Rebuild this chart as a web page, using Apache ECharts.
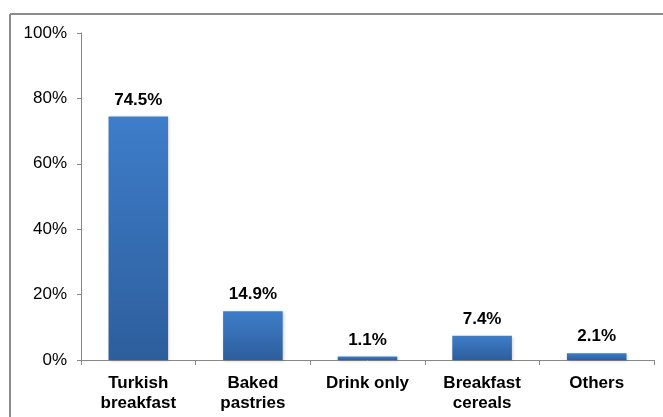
<!DOCTYPE html>
<html>
<head>
<meta charset="utf-8">
<script src="https://cdn.jsdelivr.net/npm/echarts@6/dist/echarts.min.js"></script>
<style>
html,body{margin:0;padding:0;background:#fff;}
#chart{width:663px;height:417px;}
</style>
</head>
<body>
<div id="chart"></div>
<script>
var categories = ['Turkish\nbreakfast', 'Baked\npastries', 'Drink only', 'Breakfast\ncereals', 'Others'];
var values = [74.5, 14.9, 1.1, 7.4, 2.1];
var yTicks = [0, 20, 40, 60, 80, 100];

var chart = echarts.init(document.getElementById('chart'));
chart.setOption({
  animation: false,
  backgroundColor: '#fff',
  graphic: [
    { type: 'line', shape: { x1: 10, y1: 14, x2: 663, y2: 14 }, style: { stroke: '#8c8c8c', lineWidth: 2 } },
    { type: 'line', shape: { x1: 10, y1: 14, x2: 10, y2: 417 }, style: { stroke: '#8c8c8c', lineWidth: 2 } }
  ],
  grid: { left: 81, right: 9, top: 33, bottom: 57, containLabel: false },
  xAxis: {
    type: 'category',
    data: categories,
    axisLine: { lineStyle: { color: '#888', width: 1 } },
    axisTick: { show: true, alignWithLabel: false, length: 5, lineStyle: { color: '#888' } },
    axisLabel: { color: '#000', fontFamily: 'Liberation Sans, Arial', fontWeight: 'bold', fontSize: 17, lineHeight: 20, margin: 13, interval: 0 }
  },
  yAxis: {
    type: 'value',
    min: 0, max: 100, interval: 20,
    splitLine: { show: false },
    axisLine: { show: true, lineStyle: { color: '#888', width: 1 } },
    axisTick: { show: true, length: 4, lineStyle: { color: '#888' } },
    axisLabel: { color: '#000', fontFamily: 'Liberation Sans, Arial', fontSize: 17, margin: 14,
      formatter: function (v) { return yTicks.indexOf(v) >= 0 ? v + '%' : ''; } }
  },
  series: [{
    type: 'bar',
    data: values,
    barWidth: '52%',
    itemStyle: {
      color: new echarts.graphic.LinearGradient(0, 0, 0, 1, [
        { offset: 0, color: '#3e7dca' },
        { offset: 1, color: '#2d5e9c' }
      ]),
      shadowColor: 'rgba(0,0,0,0.18)', shadowBlur: 3, shadowOffsetX: 1, shadowOffsetY: 1
    },
    label: {
      show: true, position: 'top', distance: 8,
      color: '#000', fontFamily: 'Liberation Sans, Arial', fontWeight: 'bold', fontSize: 17,
      formatter: function (p) { return p.value.toFixed(1) + '%'; }
    }
  }]
});
</script>
</body>
</html>
